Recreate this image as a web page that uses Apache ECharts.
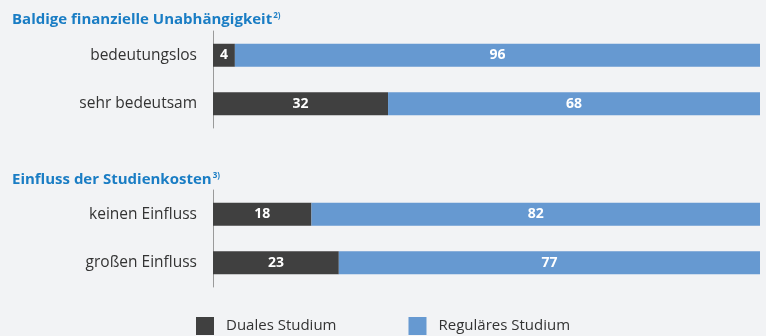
<!DOCTYPE html>
<html><head><meta charset="utf-8">
<script src="https://cdn.jsdelivr.net/npm/echarts@6/dist/echarts.min.js"></script>
<style>html,body{margin:0;padding:0;background:#f2f3f5;}#c{width:766px;height:336px;}</style>
</head><body><div id="c"></div>
<script>
const title1 = 'Baldige finanzielle Unabhängigkeit';
const title1Note = '2)';
const title2 = 'Einfluss der Studienkosten';
const title2Note = '3)';
const cats1 = ['bedeutungslos', 'sehr bedeutsam'];
const cats2 = ['keinen Einfluss', 'großen Einfluss'];
const dual1 = [4, 32];
const regular1 = [96, 68];
const dual2 = [18, 23];
const regular2 = [82, 77];
const seriesNames = ['Duales Studium', 'Reguläres Studium'];

const DARK = '#404040', BLUE = '#6699d1';
const font = '"Open Sans", "Noto Sans", sans-serif';
const chart = echarts.init(document.getElementById('c'));
const titleRich = {
  a: {fontFamily: font, fontSize: 15, fontWeight: 'bold', color: '#1a7dc4'},
  s: {fontFamily: font, fontSize: 8, fontWeight: 'bold', color: '#1a7dc4', verticalAlign: 'top', padding: [0,0,8,1]}
};
const lbl = {show: true, position: 'inside', color: '#fff', fontFamily: font, fontWeight: 'bold', fontSize: 14};
function yAx(idx, cats) {
  return {type: 'category', gridIndex: idx, data: cats, inverse: true,
    axisLine: {show: true, lineStyle: {color: '#9a9a9a', width: 1}},
    axisTick: {show: false},
    axisLabel: {color: '#333', fontFamily: font, fontSize: 15.5, margin: 16}};
}
function xAx(idx) {
  return {type: 'value', gridIndex: idx, min: 0, max: 100, show: false};
}
function ser(name, data, idx, color) {
  return {type: 'bar', name: name, stack: 's' + idx, xAxisIndex: idx, yAxisIndex: idx,
    data: data, barWidth: 23, itemStyle: {color: color}, label: lbl, emphasis: {disabled: true}};
}
chart.setOption({
  backgroundColor: '#f2f3f5',
  animation: false,
  title: [
    {text: '{a|' + title1 + '}{s|' + title1Note + '}', left: 7, top: 7, textStyle: {rich: titleRich}},
    {text: '{a|' + title2 + '}{s|' + title2Note + '}', left: 7, top: 167, textStyle: {rich: titleRich}}
  ],
  grid: [
    {left: 213, right: 6, top: 31, height: 97},
    {left: 213, right: 6, top: 190, height: 97}
  ],
  xAxis: [xAx(0), xAx(1)],
  yAxis: [yAx(0, cats1), yAx(1, cats2)],
  legend: {
    data: seriesNames, top: 312, left: 191, itemWidth: 18, itemHeight: 18, itemGap: 72,
    icon: 'rect',
    textStyle: {color: '#333', fontFamily: font, fontSize: 15, padding: [0, 0, 0, 7]}
  },
  series: [
    ser(seriesNames[0], dual1, 0, DARK),
    ser(seriesNames[1], regular1, 0, BLUE),
    ser(seriesNames[0], dual2, 1, DARK),
    ser(seriesNames[1], regular2, 1, BLUE)
  ]
});
</script></body></html>
